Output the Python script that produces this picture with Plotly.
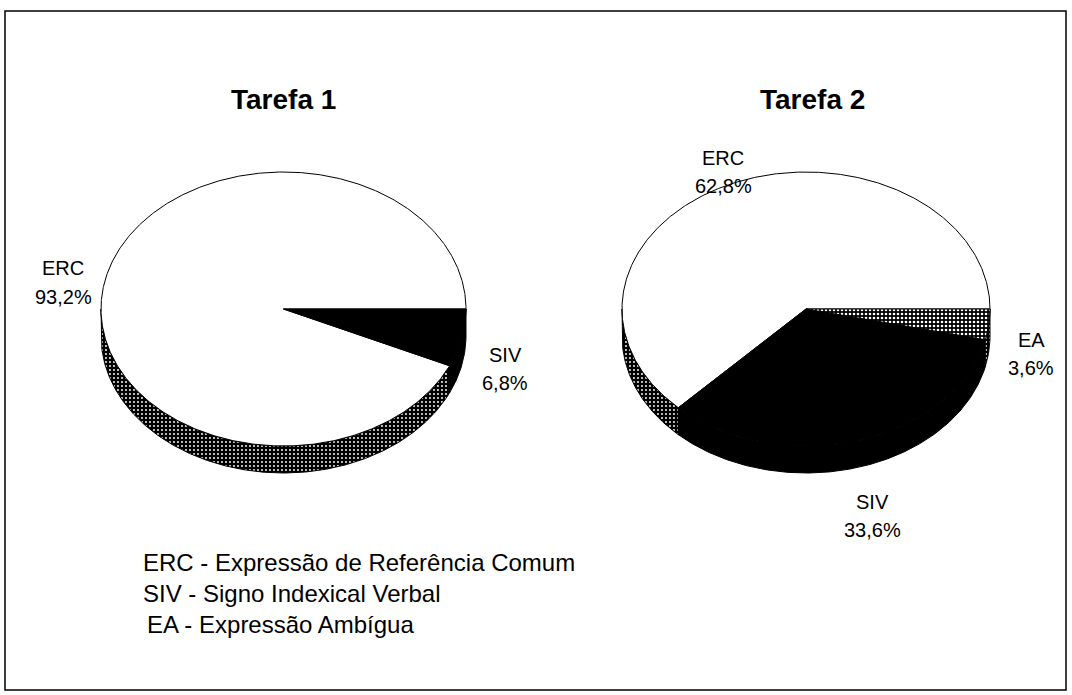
import numpy as np
import plotly.graph_objects as go

# ---- data ----
titles = ["Tarefa 1", "Tarefa 2"]
cats_t1 = ["ERC", "SIV"]
vals_t1 = [93.2, 6.8]
cats_t2 = ["ERC", "SIV", "EA"]
vals_t2 = [62.8, 33.6, 3.6]
legend_lines = ["ERC - Expressão de Referência Comum",
                "SIV - Signo Indexical Verbal",
                " EA - Expressão Ambígua"]

# ---- styles / layout (pixel coordinates) ----
W, H = 1072, 695
pies = [
    dict(cx=283.5, cy=309, a=182.5, b=137, depth=27),
    dict(cx=806, cy=309, a=184, b=137, depth=27),
]
title_pos = [(283, 99), (812, 99)]
label_pos = [
    {"ERC": (63, 268, 297), "SIV": (505, 355, 383)},
    {"ERC": (723, 158, 186), "SIV": (872, 502, 530), "EA": (1031, 340, 368)},
]
DOTS = dict(shape=".", fgcolor="white", bgcolor="black", size=4, solidity=0.18, fillmode="replace")
DOTS_LIGHT = dict(shape=".", fgcolor="white", bgcolor="black", size=4, solidity=0.35, fillmode="replace")
top_style = {"ERC": ("white", None), "SIV": ("black", None), "EA": ("black", DOTS_LIGHT)}
side_style = {"ERC": ("black", DOTS), "SIV": ("black", None), "EA": ("black", DOTS)}

FONT = "Liberation Sans, Arial, Helvetica, sans-serif"

fig = go.Figure()


def ell(p, t):
    return p["cx"] + p["a"] * np.cos(t), p["cy"] + p["b"] * np.sin(t)


def add_poly(xs, ys, color, pattern):
    kw = dict(x=list(xs), y=list(ys), mode="lines", fill="toself",
              fillcolor=color, line=dict(color="black", width=1),
              hoverinfo="skip", showlegend=False)
    if pattern is not None:
        kw["fillpattern"] = pattern
    fig.add_trace(go.Scatter(**kw))


for p, cats, vals in [(pies[0], cats_t1, vals_t1), (pies[1], cats_t2, vals_t2)]:
    total = sum(vals)
    ranges = []
    acc = 0.0
    for c, v in zip(cats, vals):
        th0 = acc / total * 360
        acc += v
        th1 = acc / total * 360
        ranges.append((c, 360 - th1, 360 - th0))
    for c, t0, t1 in ranges:
        for base in (0, 360):
            lo = max(t0, base)
            hi = min(t1, base + 180)
            if hi <= lo:
                continue
            tt = np.radians(np.linspace(lo, hi, max(int(hi - lo) * 2, 4)))
            x, y = ell(p, tt)
            xs = np.concatenate([x, x[::-1]])
            ys = np.concatenate([y, (y + p["depth"])[::-1]])
            col, pat = side_style[c]
            add_poly(np.append(xs, xs[0]), np.append(ys, ys[0]), col, pat)
    for c, t0, t1 in ranges:
        tt = np.radians(np.linspace(t0, t1, max(int(t1 - t0) * 2, 4)))
        x, y = ell(p, tt)
        xs = np.concatenate([[p["cx"]], x, [p["cx"]]])
        ys = np.concatenate([[p["cy"]], y, [p["cy"]]])
        col, pat = top_style[c]
        add_poly(xs, ys, col, pat)

annotations = []
for (tx, ty), t in zip(title_pos, titles):
    annotations.append(dict(x=tx, y=ty, text="<b>" + t + "</b>", showarrow=False,
                            xref="x", yref="y", xanchor="center", yanchor="middle",
                            font=dict(family=FONT, size=28, color="black")))
for lp, cats, vals in [(label_pos[0], cats_t1, vals_t1), (label_pos[1], cats_t2, vals_t2)]:
    for c, v in zip(cats, vals):
        lx, ly1, ly2 = lp[c]
        pct = f"{v:.1f}".replace(".", ",") + "%"
        for txt, yy in ((c, ly1), (pct, ly2)):
            annotations.append(dict(x=lx, y=yy, text=txt, showarrow=False,
                                    xref="x", yref="y", xanchor="center", yanchor="middle",
                                    font=dict(family=FONT, size=20, color="black")))
for i, line in enumerate(legend_lines):
    annotations.append(dict(x=141 + (4 if line.startswith(" ") else 0), y=562 + 31 * i,
                            text=line.strip(), showarrow=False, xref="x", yref="y",
                            xanchor="left", yanchor="middle",
                            font=dict(family=FONT, size=24, color="black")))

fig.update_layout(
    width=W, height=H, margin=dict(l=0, r=0, t=0, b=0),
    paper_bgcolor="white", plot_bgcolor="white",
    xaxis=dict(range=[0, W], visible=False, fixedrange=True),
    yaxis=dict(range=[H, 0], visible=False, fixedrange=True),
    annotations=annotations,
    shapes=[dict(type="rect", xref="x", yref="y", x0=5, y0=11, x1=1066, y1=690,
                 line=dict(color="black", width=1.5))],
)

fig.write_html("out.html", config={"displayModeBar": False},
               post_script="document.body.style.margin='0';document.body.style.overflow='hidden';")
